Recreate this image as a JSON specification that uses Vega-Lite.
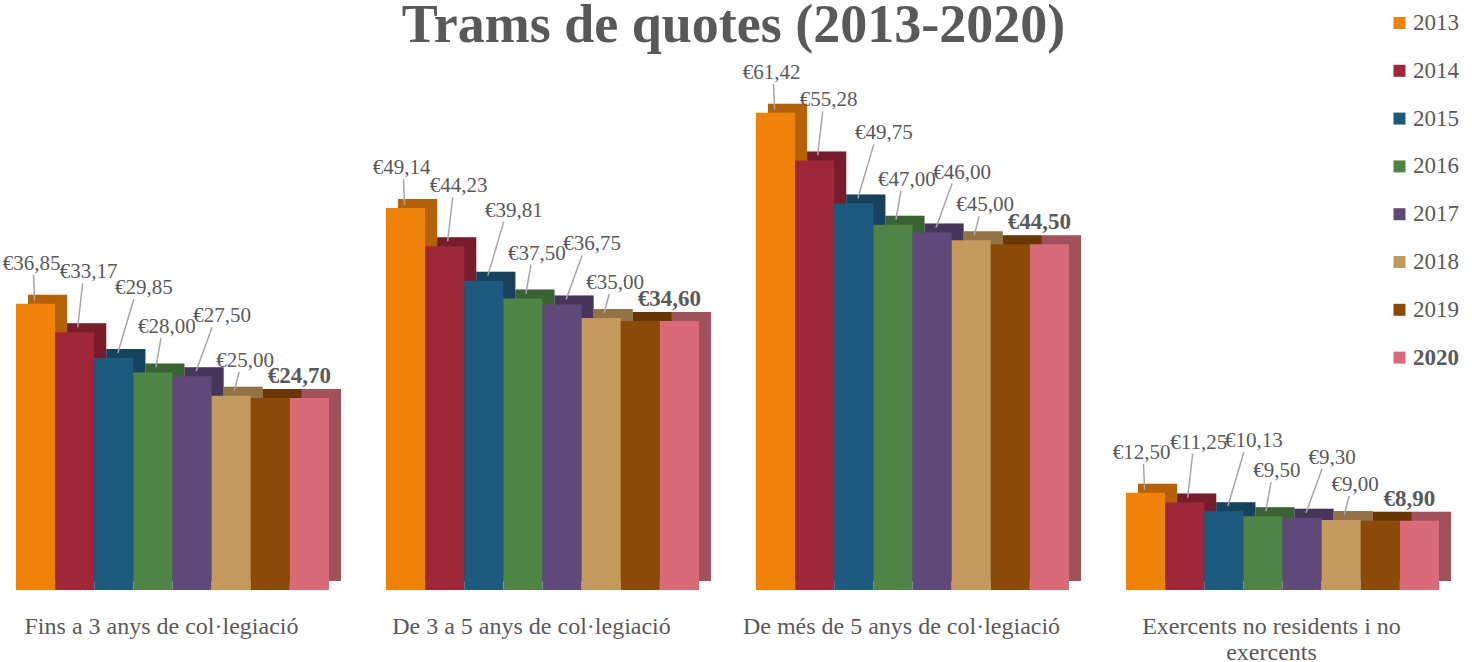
{
  "$schema": "https://vega.github.io/schema/vega-lite/v6.json",
  "width": 1455,
  "height": 530,
  "autosize": {"type": "none"},
  "padding": {"left": 0, "top": 60, "right": 23, "bottom": 72},
  "background": "white",
  "config": {"view": {"stroke": null}},
  "title": {
    "text": "Trams de quotes (2013-2020)",
    "font": "Liberation Serif",
    "fontSize": 54,
    "fontWeight": "bold",
    "color": "#595959",
    "anchor": "middle",
    "frame": "group",
    "baseline": "alphabetic",
    "offset": -84,
    "dx": 6
  },
  "data": {
    "values": [
      {"cat": "Fins a 3 anys de col·legiació", "year": "2013", "value": 36.85, "label": "€36,85"},
      {"cat": "Fins a 3 anys de col·legiació", "year": "2014", "value": 33.17, "label": "€33,17"},
      {"cat": "Fins a 3 anys de col·legiació", "year": "2015", "value": 29.85, "label": "€29,85"},
      {"cat": "Fins a 3 anys de col·legiació", "year": "2016", "value": 28.00, "label": "€28,00"},
      {"cat": "Fins a 3 anys de col·legiació", "year": "2017", "value": 27.50, "label": "€27,50"},
      {"cat": "Fins a 3 anys de col·legiació", "year": "2018", "value": 25.00, "label": "€25,00"},
      {"cat": "Fins a 3 anys de col·legiació", "year": "2019", "value": 24.70, "label": ""},
      {"cat": "Fins a 3 anys de col·legiació", "year": "2020", "value": 24.70, "label": "€24,70"},
      {"cat": "De 3 a 5 anys de col·legiació", "year": "2013", "value": 49.14, "label": "€49,14"},
      {"cat": "De 3 a 5 anys de col·legiació", "year": "2014", "value": 44.23, "label": "€44,23"},
      {"cat": "De 3 a 5 anys de col·legiació", "year": "2015", "value": 39.81, "label": "€39,81"},
      {"cat": "De 3 a 5 anys de col·legiació", "year": "2016", "value": 37.50, "label": "€37,50"},
      {"cat": "De 3 a 5 anys de col·legiació", "year": "2017", "value": 36.75, "label": "€36,75"},
      {"cat": "De 3 a 5 anys de col·legiació", "year": "2018", "value": 35.00, "label": "€35,00"},
      {"cat": "De 3 a 5 anys de col·legiació", "year": "2019", "value": 34.60, "label": ""},
      {"cat": "De 3 a 5 anys de col·legiació", "year": "2020", "value": 34.60, "label": "€34,60"},
      {"cat": "De més de 5 anys de col·legiació", "year": "2013", "value": 61.42, "label": "€61,42"},
      {"cat": "De més de 5 anys de col·legiació", "year": "2014", "value": 55.28, "label": "€55,28"},
      {"cat": "De més de 5 anys de col·legiació", "year": "2015", "value": 49.75, "label": "€49,75"},
      {"cat": "De més de 5 anys de col·legiació", "year": "2016", "value": 47.00, "label": "€47,00"},
      {"cat": "De més de 5 anys de col·legiació", "year": "2017", "value": 46.00, "label": "€46,00"},
      {"cat": "De més de 5 anys de col·legiació", "year": "2018", "value": 45.00, "label": "€45,00"},
      {"cat": "De més de 5 anys de col·legiació", "year": "2019", "value": 44.50, "label": ""},
      {"cat": "De més de 5 anys de col·legiació", "year": "2020", "value": 44.50, "label": "€44,50"},
      {"cat": "Exercents no residents i no exercents", "year": "2013", "value": 12.50, "label": "€12,50"},
      {"cat": "Exercents no residents i no exercents", "year": "2014", "value": 11.25, "label": "€11,25"},
      {"cat": "Exercents no residents i no exercents", "year": "2015", "value": 10.13, "label": "€10,13"},
      {"cat": "Exercents no residents i no exercents", "year": "2016", "value": 9.50, "label": "€9,50"},
      {"cat": "Exercents no residents i no exercents", "year": "2017", "value": 9.30, "label": "€9,30"},
      {"cat": "Exercents no residents i no exercents", "year": "2018", "value": 9.00, "label": "€9,00"},
      {"cat": "Exercents no residents i no exercents", "year": "2019", "value": 8.90, "label": ""},
      {"cat": "Exercents no residents i no exercents", "year": "2020", "value": 8.90, "label": "€8,90"}
    ]
  },
  "encoding": {
    "y": {"field": "value", "type": "quantitative", "scale": {"domain": [0, 68.2], "nice": false, "zero": true}, "axis": null}
  },
  "resolve": {"scale": {"x": "independent", "xOffset": "independent"}},
  "layer": [
    {
      "encoding": {
        "x": {
          "field": "cat",
          "type": "nominal",
          "sort": null,
          "scale": {"paddingInner": 0.154, "paddingOuter": 0.0432, "range": [12, 1467]},
          "axis": null
        },
        "xOffset": {"field": "year", "type": "nominal", "scale": {"paddingInner": 0, "paddingOuter": 0}}
      },
      "layer": [
        {
          "mark": {"type": "bar", "yOffset": -9, "y2Offset": -9},
          "encoding": {
            "color": {
              "field": "year",
              "type": "nominal",
              "scale": {
                "domain": ["2013", "2014", "2015", "2016", "2017", "2018", "2019", "2020"],
                "range": ["#F0820A", "#A0263A", "#1D5A7D", "#4E8544", "#5F497A", "#C49A5C", "#8B4A07", "#D96B79"]
              },
              "legend": {
                "title": null,
                "orient": "none",
                "legendX": 1388,
                "legendY": -48.5,
                "symbolType": "square",
                "symbolSize": 144,
                "symbolStrokeWidth": 0,
                "symbolOpacity": 1,
                "labelFont": "Liberation Serif",
                "labelFontSize": 23,
                "labelColor": "#595959",
                "rowPadding": 23.8,
                "labelOffset": 2,
                "padding": 0,
                "labelLimit": 100,
                "encode": {"labels": {"update": {"fontWeight": {"signal": "datum.label == '2020' ? 'bold' : 'normal'"}}}}
              }
            }
          }
        },
        {
          "mark": {"type": "bar", "yOffset": -9, "y2Offset": -9, "fill": "black", "opacity": 0.25}
        }
      ]
    },
    {
      "encoding": {
        "x": {
          "field": "cat",
          "type": "nominal",
          "sort": null,
          "scale": {"paddingInner": 0.154, "paddingOuter": 0.0432},
          "axis": {
            "title": null,
            "domain": false,
            "ticks": false,
            "grid": false,
            "labelAngle": 0,
            "labelFont": "Liberation Serif",
            "labelFontSize": 24,
            "labelColor": "#595959",
            "labelPadding": 24,
            "labelOffset": -11,
            "labelLimit": 500,
            "labelLineHeight": 26,
            "labelExpr": "datum.label == 'Exercents no residents i no exercents' ? ['Exercents no residents i no', 'exercents'] : datum.label"
          }
        },
        "xOffset": {"field": "year", "type": "nominal", "scale": {"paddingInner": 0, "paddingOuter": 0}}
      },
      "layer": [
        {
          "mark": {"type": "bar"},
          "encoding": {"color": {"field": "year", "type": "nominal"}}
        },
        {
          "transform": [{"filter": "datum.year != '2019' && datum.year != '2020'"}],
          "mark": {
            "type": "point",
            "filled": false,
            "size": 4,
            "opacity": 1,
            "stroke": "#A6A6A6",
            "strokeWidth": 1.5,
            "shape": {"expr": "datum.year == '2013' ? 'M-1,-3L-2,-29' : datum.year == '2014' ? 'M3,-5L8,-49' : datum.year == '2015' ? 'M4,-5L20,-59' : datum.year == '2016' ? 'M3,-5L8,-34' : datum.year == '2017' ? 'M4,-5L20,-49' : 'M3,-5L8,-24'"}
          }
        },
        {
          "transform": [{"filter": "datum.year != '2019'"}],
          "mark": {
            "type": "text",
            "font": "Liberation Serif",
            "color": "#595959",
            "align": "center",
            "baseline": "middle",
            "fontSize": {"expr": "datum.year == '2020' ? 23 : 21"},
            "fontWeight": {"expr": "datum.year == '2020' ? 'bold' : 'normal'"},
            "dx": {"expr": "datum.year == '2013' ? -4 : datum.year == '2014' ? 14 : datum.year == '2015' ? 30 : datum.year == '2016' ? 14 : datum.year == '2017' ? 30 : datum.year == '2018' ? 14 : -10"},
            "dy": {"expr": "datum.year == '2013' ? -40 : datum.year == '2014' ? -60 : datum.year == '2015' ? -70 : datum.year == '2016' ? -45 : datum.year == '2017' ? -60 : datum.year == '2018' ? -35 : -22"}
          },
          "encoding": {"text": {"field": "label"}}
        }
      ]
    }
  ]
}
